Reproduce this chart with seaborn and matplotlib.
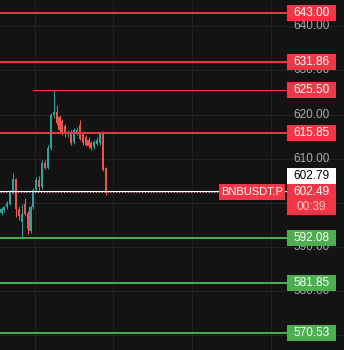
import numpy as np
import pandas as pd
import seaborn as sns
import matplotlib
matplotlib.use("Agg")
import matplotlib.pyplot as plt
from matplotlib.patches import Rectangle
from matplotlib.transforms import blended_transform_factory

# ---------------- data ----------------
opens = [597.8, 598.4, 599.0, 599.8, 602.4, 605.3, 598.6, 595.6, 599.7, 597.8,
         593.6, 599.0, 602.9, 605.2, 603.6, 609.0, 608.0, 612.4, 619.9, 620.6,
         619.4, 618.5, 617.5, 615.5, 616.0, 613.8, 615.8, 617.7, 615.8, 615.0,
         614.3, 613.6, 612.6, 613.3, 613.5, 615.9, 607.9]
highs = [599.0, 599.3, 600.4, 602.8, 606.7, 605.6, 599.2, 599.8, 601.0, 598.2,
         599.4, 603.3, 605.8, 606.0, 609.8, 609.8, 613.0, 620.4, 625.5, 622.2,
         620.0, 619.0, 617.9, 616.5, 616.4, 617.0, 617.2, 618.8, 616.2, 615.4,
         614.8, 614.0, 614.2, 614.8, 616.0, 616.2, 608.2]
lows = [597.3, 597.9, 598.6, 599.4, 602.0, 596.8, 596.0, 592.0, 597.0, 593.0,
        593.2, 598.6, 602.4, 603.0, 603.2, 607.6, 607.6, 612.0, 619.2, 617.6,
        616.0, 615.4, 615.0, 615.0, 613.2, 613.4, 615.4, 614.2, 613.2, 612.8,
        612.4, 612.0, 612.2, 613.0, 613.2, 607.2, 601.8]
closes = [598.6, 599.0, 600.0, 602.4, 605.3, 598.6, 597.0, 597.4, 597.5, 594.0,
          599.0, 602.9, 605.2, 603.6, 609.0, 608.0, 612.4, 619.9, 620.6, 618.1,
          616.5, 615.8, 615.5, 616.0, 613.6, 616.5, 616.5, 614.5, 613.6, 613.2,
          612.9, 612.5, 613.8, 614.3, 615.5, 607.4, 602.49]

resistance_levels = [643.00, 631.86, 615.85]
high_level = 625.50
support_levels = [592.08, 581.85, 570.53]
last_price = 602.49
mark_price = 602.79
symbol = "BNBUSDT.P"
countdown = "00:39"
price_ticks = [570, 580, 590, 600, 610, 620, 630, 640]
visible_tick_labels = [580, 590, 610, 620, 630, 640]

# ---------------- style ----------------
BG = "#131313"
GRID = "#222222"
UP = "#26a69a"
DOWN = "#ef5350"
RED = "#f23645"
GREEN = "#4caf50"
GRAY = "#a8aab0"

sns.set_theme(style="dark", rc={"axes.facecolor": BG, "figure.facecolor": BG,
                                "grid.color": GRID, "axes.grid": True})
plt.rcParams["font.family"] = ["Liberation Sans", "DejaVu Sans"]

W, H = 344, 350
fig = plt.figure(figsize=(W / 100, H / 100), dpi=100)
ax = fig.add_axes([0, 0, 1, 1])
ax.set_facecolor(BG)

df = pd.DataFrame({"open": opens, "high": highs, "low": lows, "close": closes})
df["i"] = np.arange(len(df))
df["up"] = df["close"] >= df["open"]
df["color"] = np.where(df["up"], UP, DOWN)

ymin, ymax = 566.67, 645.94
ax.set_ylim(ymin, ymax)
ax.set_xlim(-0.52, 118.1)
unit = (ymax - ymin) / H  # price per pixel

# grid
ax.set_xticks([11.5 + 27.1 * k for k in range(4)])
ax.set_yticks(price_ticks)
ax.grid(True, color=GRID, linewidth=0.75)
ax.tick_params(labelleft=False, labelbottom=False, length=0)
for s in ax.spines.values():
    s.set_visible(False)

# candles
ax.vlines(df["i"], df["low"], df["high"], colors=df["color"], linewidth=0.75, zorder=3)
body = (df["close"] - df["open"]).abs().clip(lower=0.25)
ax.bar(df["i"], body, bottom=df[["open", "close"]].min(axis=1), width=0.7,
       color=df["color"], linewidth=0, zorder=4)

trans = blended_transform_factory(ax.transAxes, ax.transData)
x_lab0, x_lab1 = 287 / W, 336 / W
x_mid = (x_lab0 + x_lab1) / 2

# gray axis tick labels (those not fully hidden by the level boxes)
for t in visible_tick_labels:
    ax.text(x_mid, t, f"{t:.2f}", transform=trans, ha="center", va="center",
            color=GRAY, fontsize=8.5, zorder=5)


def box(price_center, h_px, face, x0=x_lab0, x1=x_lab1):
    h = h_px * unit
    ax.add_patch(Rectangle((x0, price_center - h / 2), x1 - x0, h, transform=trans,
                           facecolor=face, edgecolor="none", zorder=8))


def label(price, text, face, fg="white"):
    box(price, 16, face)
    ax.text(x_mid, price, text, transform=trans, ha="center", va="center",
            color=fg, fontsize=8.5, zorder=9)


# level lines
for lv in resistance_levels:
    ax.axhline(lv, xmin=0, xmax=x_lab0, color=RED, linewidth=1.4, zorder=6)
    label(lv, f"{lv:.2f}", RED)
ax.axhline(high_level, xmin=33 / W, xmax=x_lab0, color=RED, linewidth=0.8, zorder=6)
label(high_level, f"{high_level:.2f}", RED)
for lv in support_levels:
    ax.axhline(lv, xmin=0, xmax=x_lab0, color=GREEN, linewidth=1.4, zorder=6)
    label(lv, f"{lv:.2f}", GREEN)

# price lines
ax.axhline(mark_price, xmin=0, xmax=x_lab0, color="white", linewidth=0.8, zorder=6)
ax.axhline(last_price, xmin=0, xmax=x_lab0, color="#e8a4ab", linewidth=0.8,
           linestyle=(0, (1, 1.6)), zorder=6)

# mark price label (white box, shifted above)
wc = mark_price + 14.5 * unit
box(wc, 16, "white")
ax.text(x_mid, wc, f"{mark_price:.2f}", transform=trans, ha="center", va="center",
        color="black", fontsize=8.5, zorder=9)

# last price + countdown box
rc = last_price - 7.5 * unit
box(rc, 31, RED)
ax.text(x_mid, last_price, f"{last_price:.2f}", transform=trans, ha="center",
        va="center", color="white", fontsize=8.5, zorder=9)
ax.text(x_mid, last_price - 15 * unit, countdown, transform=trans, ha="center",
        va="center", color="#f9c4c9", fontsize=8.5, zorder=9)

# symbol box
box(last_price - 0.5 * unit, 16, RED, x0=219 / W, x1=285 / W)
ax.text((219 + 285) / 2 / W, last_price - 0.5 * unit, symbol, transform=trans,
        ha="center", va="center", color="white", fontsize=8, zorder=9)

fig.savefig("out.png", dpi=100, facecolor=BG)
